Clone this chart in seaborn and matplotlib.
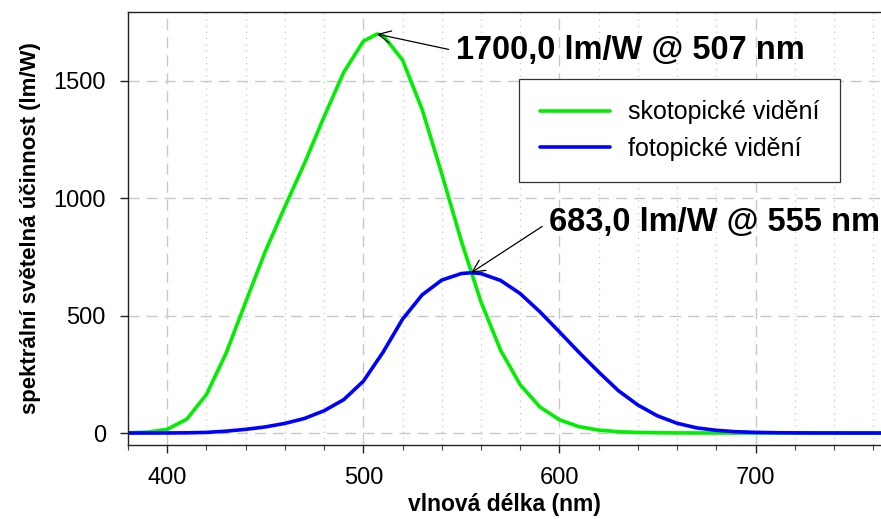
import numpy as np
import pandas as pd
import matplotlib
matplotlib.use("Agg")
import matplotlib.pyplot as plt
from matplotlib.ticker import MultipleLocator
import seaborn as sns

# Spectral luminous efficacy (lm/W)
wl_scot = [380, 390, 400, 410, 420, 430, 440, 450, 460, 470, 480, 490, 500, 507,
           510, 520, 530, 540, 550, 560, 570, 580, 590, 600, 610, 620, 630, 640,
           650, 660, 670, 680, 690, 700, 710, 720, 730, 740, 750, 760, 770, 780]
k_scot = [1.0, 3.8, 15.8, 59.2, 164.2, 339.7, 557.8, 773.5, 963.9, 1149.2, 1348.1,
          1536.8, 1669.4, 1700.0, 1694.9, 1589.5, 1378.7, 1105.0, 817.7, 559.0,
          352.9, 206.0, 111.4, 56.4, 27.1, 12.5, 5.7, 2.5, 1.2, 0.5, 0.3, 0.1,
          0.06, 0.03, 0.02, 0.01, 0.0, 0.0, 0.0, 0.0, 0.0, 0.0]

wl_phot = [380, 390, 400, 410, 420, 430, 440, 450, 460, 470, 480, 490, 500, 510,
           520, 530, 540, 550, 555, 560, 570, 580, 590, 600, 610, 620, 630, 640,
           650, 660, 670, 680, 690, 700, 710, 720, 730, 740, 750, 760, 770, 780]
k_phot = [0.03, 0.08, 0.27, 0.83, 2.7, 7.9, 15.7, 26.0, 41.0, 62.1, 95.0, 142.1,
          220.6, 343.5, 484.9, 588.7, 651.6, 679.6, 683.0, 679.6, 650.2, 594.2,
          517.0, 431.0, 343.5, 260.2, 181.0, 119.5, 73.1, 41.7, 21.9, 11.6, 5.6,
          2.8, 1.4, 0.7, 0.36, 0.17, 0.08, 0.04, 0.02, 0.01]

series_names = ["skotopické vidění", "fotopické vidění"]
series_colors = ["#00ee00", "#0000ff"]

peak_scot = (507, 1700.0)
peak_phot = (555, 683.0)

df = pd.concat([
    pd.DataFrame({"wl": wl_scot, "k": k_scot, "typ": series_names[0]}),
    pd.DataFrame({"wl": wl_phot, "k": k_phot, "typ": series_names[1]}),
], ignore_index=True)

sns.set_theme(style="white")
plt.rcParams["font.family"] = ["Liberation Sans", "DejaVu Sans"]
plt.rcParams["text.color"] = "black"

W, H = 881, 519
fig = plt.figure(figsize=(W / 100, H / 100), dpi=100)
ax = fig.add_axes([128 / W, 1 - 445 / H, 1 - 128 / W, (445 - 12) / H])

sns.lineplot(data=df, x="wl", y="k", hue="typ",
             palette=dict(zip(series_names, series_colors)),
             linewidth=2.6, ax=ax, sort=False, estimator=None)

ax.set_xlim(380, 764)
ax.set_ylim(-51, 1794)

ax.xaxis.set_major_locator(MultipleLocator(100))
ax.xaxis.set_minor_locator(MultipleLocator(20))
ax.yaxis.set_major_locator(MultipleLocator(500))

ax.grid(which="major", axis="both", color="#c8c8c8", linestyle=(0, (8, 5)), linewidth=1.0)
ax.grid(which="minor", axis="x", color="#c8c8c8", linestyle=(0, (1, 4)), linewidth=0.9)
ax.set_axisbelow(True)

for side in ["left", "bottom", "top"]:
    ax.spines[side].set_visible(True)
    ax.spines[side].set_color("#222222")
    ax.spines[side].set_linewidth(1.0)
ax.spines["right"].set_visible(False)

ax.tick_params(axis="both", which="major", direction="out", length=6, width=1.0,
               color="#222222", labelsize=17, labelcolor="black", pad=10,
               bottom=True, left=True)
ax.tick_params(axis="x", which="minor", direction="out", length=3.5, width=0.8,
               color="#444444", bottom=True)

ax.set_xlabel("vlnová délka (nm)", fontsize=16.5, fontweight="bold",
              color="black", labelpad=3)
ax.set_ylabel("spektrální světelná účinnost (lm/W)", fontsize=16, fontweight="bold",
              color="black", labelpad=9)

arrow = dict(arrowstyle="->", color="black", lw=0.9, mutation_scale=22,
             relpos=(0, 0.5), shrinkA=3, shrinkB=0)
ax.annotate(f"{peak_scot[1]:.1f}".replace(".", ",") + f" lm/W @ {peak_scot[0]} nm",
            xy=peak_scot, xytext=(456, H - 51), textcoords="figure pixels",
            fontsize=23.5, fontweight="bold", va="center", ha="left",
            color="black", arrowprops=arrow)
ax.annotate(f"{peak_phot[1]:.1f}".replace(".", ",") + f" lm/W @ {peak_phot[0]} nm",
            xy=peak_phot, xytext=(549, H - 222), textcoords="figure pixels",
            fontsize=23.5, fontweight="bold", va="center", ha="left",
            color="black", arrowprops=arrow, annotation_clip=False)

leg = ax.legend(loc="upper left", bbox_to_anchor=(519 / W, 1 - 79 / H),
                bbox_transform=fig.transFigure, fontsize=18, frameon=True,
                fancybox=False, framealpha=1, edgecolor="#333333",
                handlelength=2.8, borderpad=0.85, labelspacing=0.5,
                handletextpad=0.7, borderaxespad=0)
leg.get_frame().set_linewidth(0.9)
for txt in leg.get_texts():
    txt.set_color("black")
for line in leg.get_lines():
    line.set_linewidth(2.6)

fig.savefig("out.png", dpi=100)
